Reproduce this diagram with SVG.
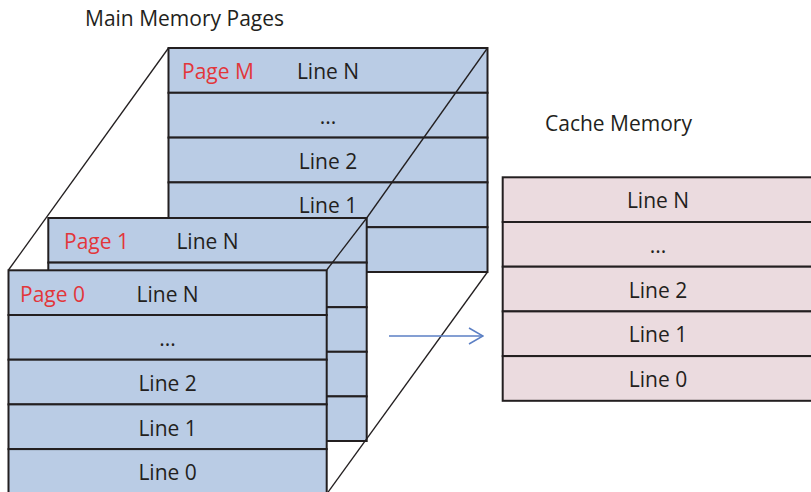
<svg xmlns="http://www.w3.org/2000/svg" width="811" height="492" viewBox="0 0 811 492">
  <style>
    .pg { fill: #BACCE5; stroke: #231F20; stroke-width: 2; }
    .ca { fill: #EBDBDF; stroke: #231F20; stroke-width: 2; }
    .edge { stroke: #231F20; stroke-width: 1.3; fill: none; }
    text { font-family: "Open Sans", "Lato", "Liberation Sans", sans-serif; font-size: 21px; fill: #231F20; }
    .lbl { text-anchor: middle; }
    .red { fill: #E2363A; }
  </style>
  <defs>
    <marker id="open" viewBox="0 0 16 18" refX="15" refY="9" markerWidth="16" markerHeight="18" markerUnits="userSpaceOnUse" orient="auto">
      <path d="M1,1 L15,9 L1,17" fill="none" stroke="#5B7FC4" stroke-width="1.5"/>
    </marker>
  </defs>

  <text x="85" y="26">Main Memory Pages</text>
  <text x="545" y="131">Cache Memory</text>

  <!-- back page -->
  <g id="page-m">
    <rect class="pg" x="168.5" y="48" width="319" height="44.8"/>
    <rect class="pg" x="168.5" y="92.8" width="319" height="44.8"/>
    <rect class="pg" x="168.5" y="137.6" width="319" height="44.8"/>
    <rect class="pg" x="168.5" y="182.4" width="319" height="44.8"/>
    <rect class="pg" x="168.5" y="227.2" width="319" height="44.8"/>
    <text class="red" x="182" y="79">Page M</text>
    <text class="lbl" x="328" y="79">Line N</text>
    <text class="lbl" x="328" y="124">...</text>
    <text class="lbl" x="328" y="169">Line 2</text>
    <text class="lbl" x="328" y="213">Line 1</text>
  </g>

  <!-- perspective edges over the back page -->
  <g id="edges-back">
    <line class="edge" x1="168.5" y1="48" x2="8.5" y2="270"/>
    <line class="edge" x1="487.5" y1="48" x2="366.7" y2="218"/>
  </g>

  <g id="page-1">
    <rect class="pg" x="48.3" y="218" width="318.4" height="44.6"/>
    <rect class="pg" x="48.3" y="262.6" width="318.4" height="44.6"/>
    <rect class="pg" x="48.3" y="307.2" width="318.4" height="44.6"/>
    <rect class="pg" x="48.3" y="351.8" width="318.4" height="44.6"/>
    <rect class="pg" x="48.3" y="396.4" width="318.4" height="44.6"/>
    <text class="red" x="64" y="249">Page 1</text>
    <text class="lbl" x="207.5" y="249">Line N</text>
  </g>

  <g id="edges-front">
    <line class="edge" x1="366.7" y1="218" x2="326.7" y2="270"/>
    <line class="edge" x1="487.5" y1="272" x2="326.7" y2="494"/>
  </g>

  <g id="page-0">
    <rect class="pg" x="8.5" y="270.3" width="318.2" height="44.7"/>
    <rect class="pg" x="8.5" y="315" width="318.2" height="44.7"/>
    <rect class="pg" x="8.5" y="359.7" width="318.2" height="44.7"/>
    <rect class="pg" x="8.5" y="404.4" width="318.2" height="44.7"/>
    <rect class="pg" x="8.5" y="449.1" width="318.2" height="46"/>
    <text class="red" x="20" y="302">Page 0</text>
    <text class="lbl" x="167.6" y="302">Line N</text>
    <text class="lbl" x="167.6" y="346">...</text>
    <text class="lbl" x="167.6" y="391">Line 2</text>
    <text class="lbl" x="167.6" y="436">Line 1</text>
    <text class="lbl" x="167.6" y="480">Line 0</text>
  </g>

  <g id="cache">
    <rect class="ca" x="502.7" y="177.3" width="312" height="44.7"/>
    <rect class="ca" x="502.7" y="222" width="312" height="44.7"/>
    <rect class="ca" x="502.7" y="266.7" width="312" height="44.7"/>
    <rect class="ca" x="502.7" y="311.4" width="312" height="44.7"/>
    <rect class="ca" x="502.7" y="356.1" width="312" height="44.7"/>
    <text class="lbl" x="658" y="208">Line N</text>
    <text class="lbl" x="658" y="253">...</text>
    <text class="lbl" x="658" y="298">Line 2</text>
    <text class="lbl" x="658" y="342">Line 1</text>
    <text class="lbl" x="658" y="387">Line 0</text>
  </g>

  <g id="connectors">
    <line x1="389" y1="336" x2="483" y2="336" stroke="#5B7FC4" stroke-width="1.5" marker-end="url(#open)"/>
  </g>
</svg>
